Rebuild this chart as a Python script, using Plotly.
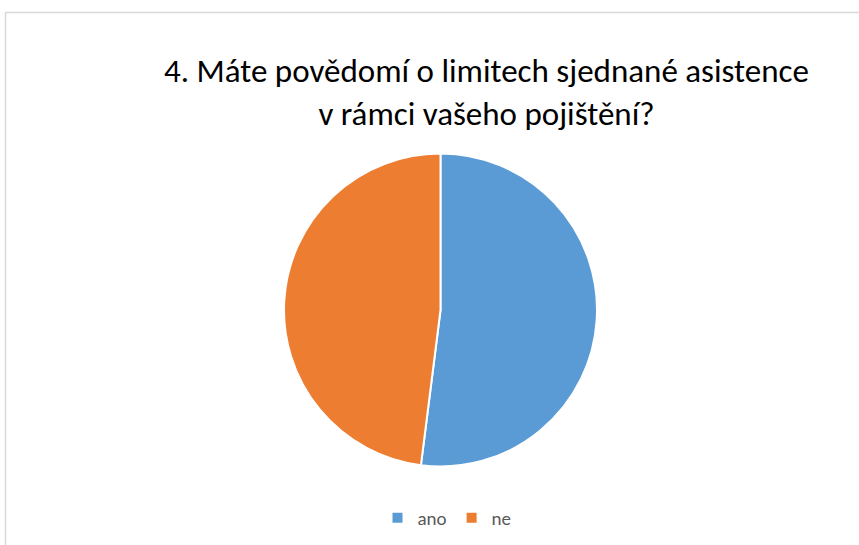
import plotly.graph_objects as go

labels = ["ano", "ne"]
values = [52, 48]
colors = ["#5B9BD5", "#ED7D31"]
title_lines = ["4. Máte povědomí o limitech sjednané asistence", "v rámci vašeho pojištění?"]

W, H = 859, 545
cx, cy, r = 440.5, 310, 156.5

fig = go.Figure()
fig.add_trace(go.Pie(
    labels=labels, values=values,
    marker=dict(colors=colors, line=dict(color="white", width=2)),
    sort=False, direction="clockwise", rotation=0,
    textinfo="none", hoverinfo="label+percent",
    domain=dict(x=[(cx - r) / W, (cx + r) / W], y=[(H - cy - r) / H, (H - cy + r) / H]),
))

fig.add_annotation(
    text="<br>".join(title_lines), xref="paper", yref="paper",
    x=486 / W, y=1 - 93 / H, xanchor="center", yanchor="middle",
    showarrow=False, align="center",
    font=dict(family="Calibri, Lato, sans-serif", size=33, color="#000000"),
)

fig.add_shape(type="line", xref="paper", yref="paper", x0=5 / W, x1=1, y0=1 - 12.5 / H, y1=1 - 12.5 / H,
              line=dict(color="#d9d9d9", width=1.5))
fig.add_shape(type="line", xref="paper", yref="paper", x0=5.5 / W, x1=5.5 / W, y0=0, y1=1 - 12.5 / H,
              line=dict(color="#d9d9d9", width=1.5))

fig.update_layout(
    width=W, height=H,
    margin=dict(l=0, r=0, t=0, b=0),
    paper_bgcolor="white", plot_bgcolor="white",
    showlegend=True,
    legend=dict(orientation="h", x=447 / W, y=1 - 518 / H, xanchor="center", yanchor="middle",
                font=dict(family="Calibri, Lato, sans-serif", size=19, color="#595959"),
                itemwidth=30, traceorder="normal"),
)

fig.write_html("out.html")
